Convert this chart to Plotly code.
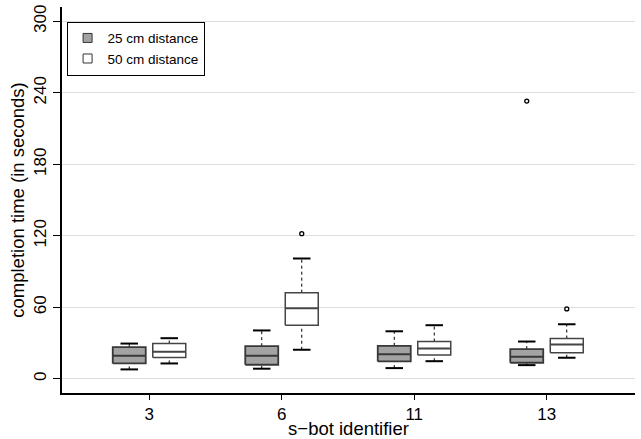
import plotly.graph_objects as go

# s-bot identifiers along the x axis
robots = ["3", "6", "11", "13"]

# completion-time summaries (seconds) at 25 cm distance
d25_low = [7.8, 8.4, 8.9, 11.4]
d25_q1 = [12.8, 11.7, 14.5, 13.4]
d25_med = [19.2, 19.2, 20.6, 18.4]
d25_q3 = [26.5, 27.3, 27.6, 24.8]
d25_high = [29.5, 40.5, 39.8, 31.2]
d25_out = [[], [], [], [233.0]]

# completion-time summaries (seconds) at 50 cm distance
d50_low = [12.8, 24.3, 14.7, 17.6]
d50_q1 = [17.8, 44.8, 19.8, 21.8]
d50_med = [22.6, 59.1, 25.4, 28.7]
d50_q3 = [29.5, 72.2, 31.2, 33.7]
d50_high = [34.0, 100.9, 44.9, 45.7]
d50_out = [[], [121.7], [], [58.6]]

y_ticks = [0, 60, 120, 180, 240, 300]

OFFSET = 0.151   # shift of each box from its tick
HALF = 0.1245    # half box width
CAP = 0.066      # half staple width

fig = go.Figure()


def add_series(name, shift, low, q1, med, q3, high, outs, fill, edge, edge_w):
    bx, by, mx, my, wx, wy, cx, cy, ox, oy = ([] for _ in range(10))
    for i in range(len(robots)):
        c = i + 1 + shift
        l, r = c - HALF, c + HALF
        bx += [l, r, r, l, l, None]
        by += [q1[i], q1[i], q3[i], q3[i], q1[i], None]
        mx += [l, r, None]
        my += [med[i], med[i], None]
        wx += [c, c, None, c, c, None]
        wy += [low[i], q1[i], None, q3[i], high[i], None]
        cx += [c - CAP, c + CAP, None, c - CAP, c + CAP, None]
        cy += [low[i], low[i], None, high[i], high[i], None]
        for v in outs[i]:
            ox.append(c)
            oy.append(v)
    common = dict(showlegend=False, hoverinfo="skip")
    fig.add_trace(go.Scatter(x=wx, y=wy, mode="lines",
                             line=dict(color="black", width=1, dash="3px,3px"), **common))
    fig.add_trace(go.Scatter(x=cx, y=cy, mode="lines",
                             line=dict(color="black", width=2), **common))
    fig.add_trace(go.Scatter(x=bx, y=by, mode="lines", fill="toself", fillcolor=fill,
                             line=dict(color=edge, width=edge_w), **common))
    fig.add_trace(go.Scatter(x=mx, y=my, mode="lines",
                             line=dict(color=edge, width=2), **common))
    fig.add_trace(go.Scatter(x=ox, y=oy, mode="markers",
                             marker=dict(symbol="circle-open", size=4, color="black",
                                         line=dict(width=1.3)), **common))
    # legend key
    fig.add_trace(go.Scatter(x=[None], y=[None], mode="markers", name=name,
                             marker=dict(symbol="square", size=9, color=fill,
                                         line=dict(color="#333333", width=1))))


add_series("25 cm distance", -OFFSET, d25_low, d25_q1, d25_med, d25_q3, d25_high,
           d25_out, "#a3a3a3", "#383838", 1.8)
add_series("50 cm distance", OFFSET, d50_low, d50_q1, d50_med, d50_q3, d50_high,
           d50_out, "#ffffff", "#454545", 1.5)

fig.update_layout(
    width=641, height=439,
    margin=dict(l=62, r=6, t=7, b=46),
    paper_bgcolor="white", plot_bgcolor="white",
    font=dict(family="Liberation Sans, Arial, sans-serif", color="black", size=16),
    legend=dict(x=0.008, y=0.962, xanchor="left", yanchor="top",
                bordercolor="black", borderwidth=1, bgcolor="white",
                font=dict(size=13.5), itemwidth=30, tracegroupgap=0),
    xaxis=dict(range=[0.3415, 4.666], tickvals=[1, 2, 3, 4], ticktext=robots,
               showgrid=False, zeroline=False, showline=True, linecolor="black",
               linewidth=1.5, ticks="outside", ticklen=5, tickwidth=1,
               tickcolor="black", tickfont=dict(size=17), automargin=False,
               title=dict(text="s\u2212bot identifier", font=dict(size=18.5), standoff=2)),
    yaxis=dict(range=[-12, 312], tickvals=y_ticks, tickangle=-90,
               showgrid=True, gridcolor="#dddddd", gridwidth=1, zeroline=False,
               showline=True, linecolor="black", linewidth=1.5, ticks="outside",
               ticklen=7, tickwidth=1, tickcolor="black", tickfont=dict(size=17),
               automargin=False,
               title=dict(text="completion time (in seconds)", font=dict(size=18.5),
                          standoff=2)),
)

fig.write_html("out.html")
